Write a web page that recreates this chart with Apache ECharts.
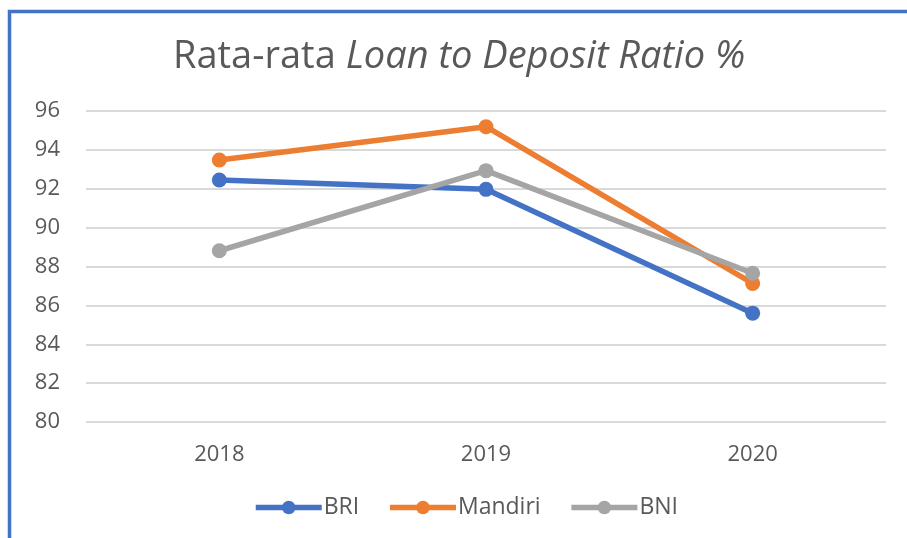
<!DOCTYPE html>
<html>
<head>
<meta charset="utf-8">
<script src="https://cdn.jsdelivr.net/npm/echarts@6/dist/echarts.min.js"></script>
<style>
html,body{margin:0;padding:0;background:#fff;}
#c{width:907px;height:538px;}
</style>
</head>
<body>
<div id="c"></div>
<script>
const categories = ['2018', '2019', '2020'];
const bri = [92.45, 91.97, 85.6];
const mandiri = [93.48, 95.19, 87.13];
const bni = [88.81, 92.93, 87.65];
const yTicks = { min: 80, max: 96, interval: 2 };

const FONT = 'Open Sans';
const TXT = '#595959';
const chart = echarts.init(document.getElementById('c'), null, { renderer: 'canvas' });

function mk(name, data, color) {
  return {
    name: name, type: 'line', data: data,
    symbol: 'circle', symbolSize: 15,
    lineStyle: { color: color, width: 5.5 },
    itemStyle: { color: color },
    emphasis: { disabled: true }
  };
}

chart.setOption({
  animation: false,
  backgroundColor: '#ffffff',
  graphic: [
    { type: 'polyline', silent: true, shape: { points: [[9.5, 538], [9.5, 11.5], [907, 11.5]] },
      style: { stroke: '#4472C4', lineWidth: 3.5, fill: null } }
  ],
  title: {
    text: '{n|Rata-rata }{i|Loan to Deposit Ratio %}',
    left: 168, top: 33,
    textStyle: {
      fontWeight: 'normal',
      rich: {
        n: { fontFamily: FONT, fontSize: 38, color: TXT, fontStyle: 'normal', fontWeight: 'normal' },
        i: { fontFamily: FONT, fontSize: 38, color: TXT, fontStyle: 'italic', fontWeight: 'normal' }
      }
    }
  },
  legend: {
    bottom: 14, left: 248,
    itemWidth: 66, itemHeight: 17, itemGap: 28,
    lineStyle: { width: 5.5 },
    textStyle: { fontFamily: FONT, fontSize: 23, color: TXT, padding: [0, 0, 0, -3] },
    data: ['BRI', 'Mandiri', 'BNI']
  },
  grid: { left: 86, right: 21, top: 111, bottom: 116, containLabel: false },
  xAxis: {
    type: 'category', data: categories, boundaryGap: true,
    axisLine: { show: false }, axisTick: { show: false },
    axisLabel: { fontFamily: FONT, fontSize: 22, color: TXT, margin: 22 }
  },
  yAxis: {
    type: 'value', min: yTicks.min, max: yTicks.max, interval: yTicks.interval,
    axisLine: { show: false }, axisTick: { show: false },
    axisLabel: { fontFamily: FONT, fontSize: 22, color: TXT, margin: 26 },
    splitLine: { lineStyle: { color: '#D9D9D9', width: 2 } }
  },
  series: [
    mk('BRI', bri, '#4472C4'),
    mk('Mandiri', mandiri, '#ED7D31'),
    mk('BNI', bni, '#A5A5A5')
  ]
});
</script>
</body>
</html>
